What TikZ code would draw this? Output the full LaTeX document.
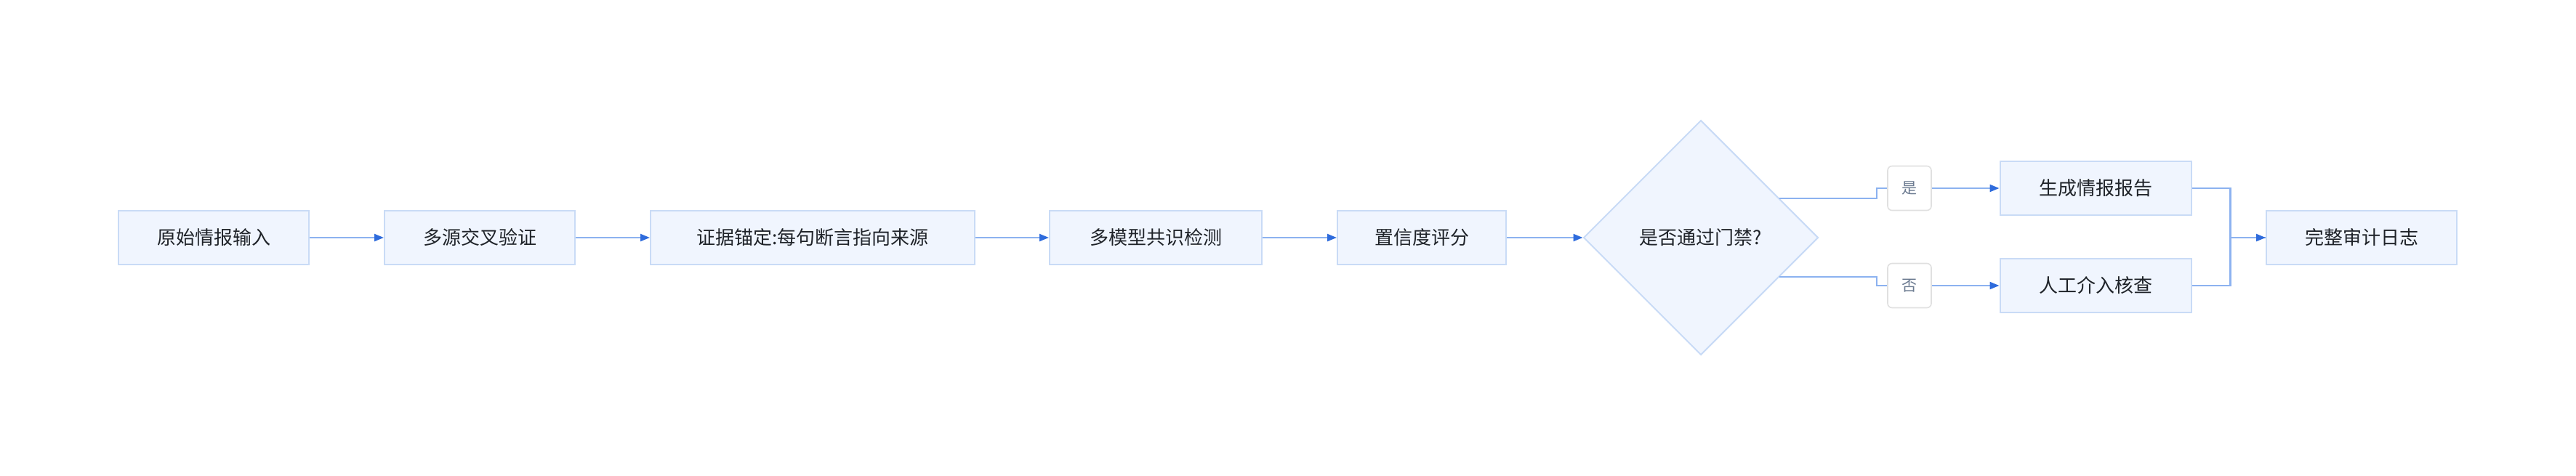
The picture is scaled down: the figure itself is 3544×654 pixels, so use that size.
\documentclass[tikz,border=0pt]{standalone}
\usepackage{fontspec}
\setmainfont{Noto Sans CJK SC}
\usetikzlibrary{arrows.meta,shapes.geometric,calc}
\definecolor{boxfill}{HTML}{F0F5FE}
\definecolor{boxline}{HTML}{C9DBF6}
\definecolor{edgeline}{HTML}{8CB2F0}
\definecolor{tipblue}{HTML}{2E6BDC}
\definecolor{txt}{HTML}{1F2329}
\definecolor{lbltxt}{HTML}{6B7A90}
\definecolor{lblline}{HTML}{E0E0E0}
\tikzset{
  procbox/.style={draw=boxline, fill=boxfill, line width=2pt, minimum height=74pt,
    inner sep=0pt, text=txt, font=\fontsize{26}{30}\selectfont},
  gate/.style={diamond, aspect=1, draw=boxline, fill=boxfill, line width=2pt,
    minimum width=323pt, minimum height=323pt, inner sep=0pt, text=txt,
    font=\fontsize{26}{30}\selectfont},
  lbl/.style={draw=lblline, fill=white, line width=1.6pt, rounded corners=6pt,
    minimum width=60pt, minimum height=61pt, inner sep=0pt, text=lbltxt,
    font=\fontsize{21}{24}\selectfont},
  conn/.style={draw=edgeline, line width=2.2pt},
  arr/.style={conn, -{Triangle[length=13pt,width=10pt,color=tipblue]}},
}
\begin{document}
\begin{tikzpicture}[x=1pt,y=-1pt]
\useasboundingbox (0,0) rectangle (3544,654);
\node[procbox, minimum width=262pt] (n1) at (294,327) {原始情报输入};
\node[procbox, minimum width=262pt] (n2) at (660,327) {多源交叉验证};
\node[procbox, minimum width=446pt] (n3) at (1118,327) {证据锚定:每句断言指向来源};
\node[procbox, minimum width=292pt] (n4) at (1590,327) {多模型共识检测};
\node[procbox, minimum width=232pt] (n5) at (1956,327) {置信度评分};
\node[gate] (d) at (2340,327) {是否通过门禁?};
\node[lbl] (yl) at (2627,259) {是};
\node[lbl] (nl) at (2627,393) {否};
\node[procbox, minimum width=263pt] (r1) at (2883,259) {生成情报报告};
\node[procbox, minimum width=263pt] (r2) at (2883,393) {人工介入核查};
\node[procbox, minimum width=262pt] (f) at (3249,327) {完整审计日志};
\coordinate (dy) at ($(d.center)+(108,-54)$);
\coordinate (dn) at ($(d.center)+(108,54)$);
\draw[arr] (n1) -- (n2);
\draw[arr] (n2) -- (n3);
\draw[arr] (n3) -- (n4);
\draw[arr] (n4) -- (n5);
\draw[arr] (n5) -- (d);
\draw[conn] (dy) -- ++(134,0) |- (yl.west);
\draw[conn] (dn) -- ++(134,0) |- (nl.west);
\draw[arr] (yl) -- (r1);
\draw[arr] (nl) -- (r2);
\draw[conn] (r2.east) -- ++(53,0) |- (f.west);
\draw[arr] (r1.east) -- ++(53,0) |- (f.west);
\end{tikzpicture}
\end{document}
